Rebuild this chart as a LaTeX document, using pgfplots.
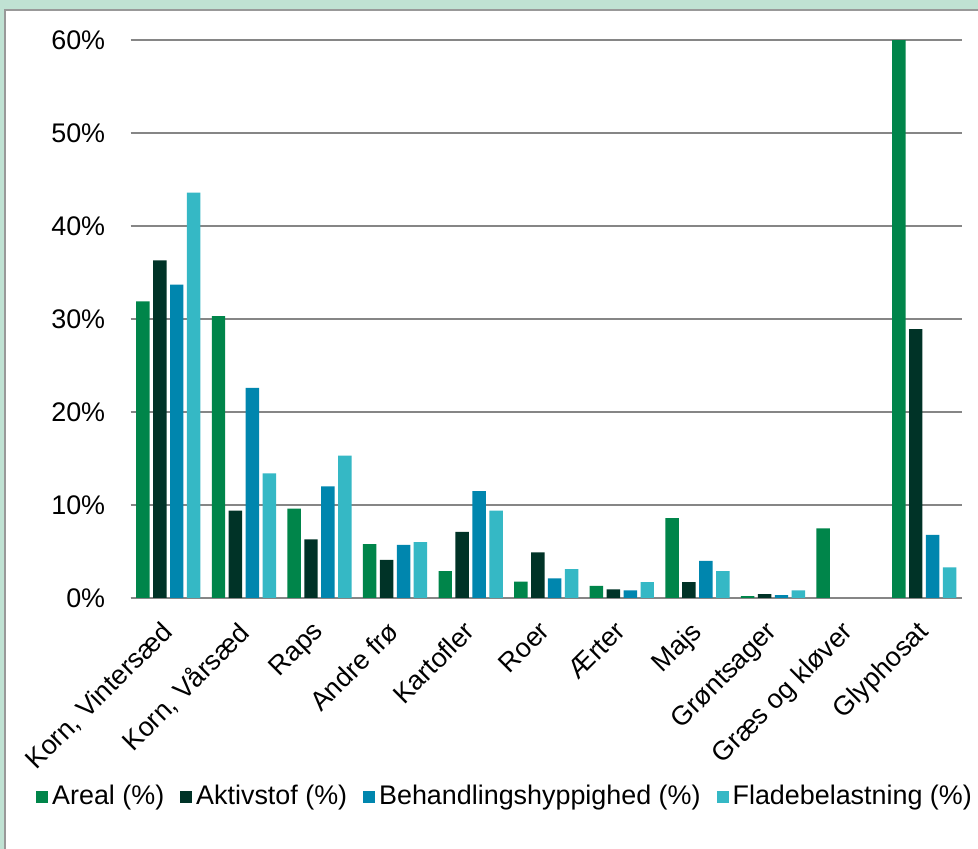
\documentclass[border=0pt]{standalone}
\usepackage{fontspec}
\setmainfont{Liberation Sans}
\usepackage{pgfplots}
\usepackage{pgfplotstable}
\pgfplotsset{compat=1.18}

\definecolor{areal}{HTML}{00854A}
\definecolor{aktiv}{HTML}{003327}
\definecolor{behand}{HTML}{0086AE}
\definecolor{flade}{HTML}{35B8C5}
\definecolor{bggreen}{HTML}{C0E2D3}
\definecolor{gridgray}{HTML}{868686}

\pgfplotstableread{
x  areal aktiv behand flade
0  31.9  36.3  33.7   43.6
1  30.3  9.4   22.6   13.4
2  9.6   6.3   12.0   15.3
3  5.8   4.1   5.7    6.0
4  2.9   7.1   11.5   9.4
5  1.75  4.9   2.1    3.1
6  1.3   0.93  0.83   1.7
7  8.6   1.7   4.0    2.9
8  0.2   0.43  0.32   0.83
9  7.5   0     0      0
10 60    28.9  6.8    3.3
}\shares

\begin{document}
\fontsize{13.5}{16}\selectfont
\begin{tikzpicture}
\path[use as bounding box] (0,0) rectangle (489bp,424.5bp);
\fill[bggreen] (0,0) rectangle (489bp,424.5bp);
\filldraw[fill=white, draw=gray!80, line width=1bp] (2.5bp,-5bp) rectangle (495bp,419.5bp);

\begin{axis}[
  at={(65.25bp,125.5bp)}, anchor=south west,
  scale only axis,
  width=415.75bp, height=279bp,
  ybar, bar width=0.178,
  xmin=-0.5, xmax=10.5,
  ymin=0, ymax=60,
  ytick={0,10,...,60},
  yticklabel={\pgfmathprintnumber{\tick}\%},
  /pgf/number format/assume math mode=true,
  ymajorgrids,
  grid style={gridgray, line width=1bp},
  axis x line*=bottom, axis y line*=left,
  x axis line style={gridgray, line width=1bp},
  y axis line style={draw=none},
  major tick length=0pt,
  xtick=data,
  xticklabels={{Korn, Vintersæd},{Korn, Vårsæd},Raps,Andre frø,Kartofler,Roer,Ærter,Majs,Grøntsager,Græs og kløver,Glyphosat},
  xticklabel style={xshift=-4.2bp, yshift=-9.2bp, rotate=45, anchor=north east, inner sep=1bp},
  yticklabel style={anchor=east, xshift=-8bp},
  tick label style={font=\fontsize{13.5}{16}\selectfont},
  legend columns=-1,
  legend style={at={(0.4516,-0.3566)}, anchor=center, draw=none, fill=none,
    font=\fontsize{13.5}{16}\selectfont,
    /tikz/every even column/.append style={column sep=6bp},
    inner sep=0pt},
  legend image code/.code={\fill[#1] (0bp,-3bp) rectangle (6bp,3bp);},
  legend cell align=left,
]
\addplot[fill=areal, draw=none, bar shift=-0.336] table[x=x, y=areal] {\shares};
\addplot[fill=aktiv, draw=none, bar shift=-0.112] table[x=x, y=aktiv] {\shares};
\addplot[fill=behand, draw=none, bar shift=0.112] table[x=x, y=behand] {\shares};
\addplot[fill=flade, draw=none, bar shift=0.336] table[x=x, y=flade] {\shares};
\legend{Areal (\%), Aktivstof (\%), Behandlingshyppighed (\%), Fladebelastning (\%)}
\end{axis}
\end{tikzpicture}
\end{document}
